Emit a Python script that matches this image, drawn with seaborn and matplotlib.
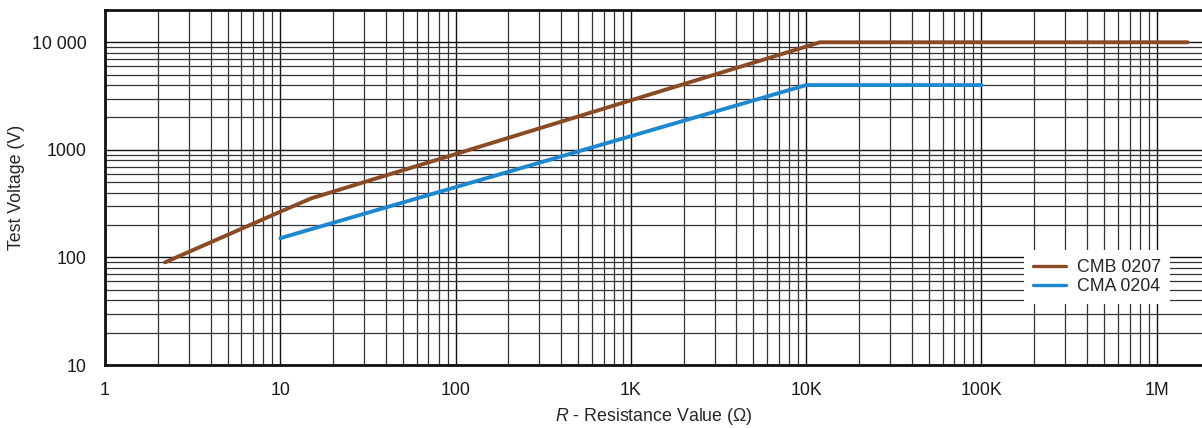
#!/usr/bin/env python3
"""Test voltage vs. resistance value for CMB 0207 and CMA 0204 (log-log)."""
import numpy as np
import pandas as pd
import matplotlib
matplotlib.use('Agg')
import matplotlib.pyplot as plt
import matplotlib.ticker as mticker
import seaborn as sns

# curve points (ohm, volt)
cmb_r = [2.2, 10, 15, 12000, 1500000]
cmb_v = [90, 266, 354, 10000, 10000]
cma_r = [10, 10000, 100000]
cma_v = [151, 4000, 4000]

series_names = ['CMB 0207', 'CMA 0204']
series_colors = ['#8B4A24', '#1D88D0']

x_ticks = [1, 10, 100, 1e3, 1e4, 1e5, 1e6]
x_tick_labels = ['1', '10', '100', '1K', '10K', '100K', '1M']
y_ticks = [10, 100, 1000, 10000]
y_tick_labels = ['10', '100', '1000', '10 000']


def main():
    sns.set_style('white')
    plt.rcParams['font.family'] = ['Liberation Sans', 'DejaVu Sans']
    plt.rcParams['mathtext.fontset'] = 'custom'
    plt.rcParams['mathtext.it'] = 'Liberation Sans:italic'
    plt.rcParams['mathtext.rm'] = 'Liberation Sans'

    df = pd.concat([
        pd.DataFrame({'R': cmb_r, 'V': cmb_v, 'type': series_names[0]}),
        pd.DataFrame({'R': cma_r, 'V': cma_v, 'type': series_names[1]}),
    ], ignore_index=True)

    fig = plt.figure(figsize=(12.02, 4.28), dpi=100)
    ax = fig.add_axes([105 / 1202, 63 / 428, 1 - 105 / 1202, 355 / 428])

    sns.lineplot(data=df, x='R', y='V', hue='type', hue_order=series_names,
                 palette=series_colors, linewidth=2.8, estimator=None,
                 sort=False, ax=ax, zorder=3)

    ax.set_xscale('log')
    ax.set_yscale('log')
    ax.set_xlim(1, 10 ** 6.258)
    ax.set_ylim(10, 10 ** 4.3)

    ax.xaxis.set_major_locator(mticker.FixedLocator(x_ticks))
    ax.xaxis.set_minor_locator(mticker.LogLocator(base=10, subs=np.arange(2, 10)))
    ax.yaxis.set_major_locator(mticker.FixedLocator(y_ticks))
    ax.yaxis.set_minor_locator(mticker.LogLocator(base=10, subs=np.arange(2, 10)))
    ax.xaxis.set_minor_formatter(mticker.NullFormatter())
    ax.yaxis.set_minor_formatter(mticker.NullFormatter())
    ax.set_xticklabels(x_tick_labels)
    ax.set_yticklabels(y_tick_labels)

    ax.grid(True, which='major', color='#111111', linewidth=1.0, zorder=1)
    ax.grid(True, which='minor', color='#333333', linewidth=0.9, zorder=1)
    ax.set_axisbelow(True)

    ax.tick_params(which='both', length=0, labelsize=12.8, colors='#1a1a1a')
    ax.tick_params(axis='x', pad=12)
    ax.tick_params(axis='y', pad=13)

    for side in ['left', 'bottom', 'top']:
        ax.spines[side].set_linewidth(2)
        ax.spines[side].set_color('#111111')
    ax.spines['right'].set_visible(False)

    ax.set_xlabel(r'$\it{R}$ - Resistance Value (Ω)', fontsize=12.8, labelpad=5)
    ax.set_ylabel('Test Voltage (V)', fontsize=12.8, labelpad=5)

    handles, labels = ax.get_legend_handles_labels()
    for h in handles:
        h.set_linewidth(2.4)
    leg = ax.legend(handles, labels, loc='lower right',
                    bbox_to_anchor=(1170 / 1202, 1 - 304 / 428),
                    bbox_transform=fig.transFigure, borderaxespad=0,
                    fontsize=12.8, frameon=True, fancybox=False,
                    framealpha=1, facecolor='white', edgecolor='none',
                    handlelength=1.9, handletextpad=0.6, labelspacing=0.1,
                    borderpad=0.5)
    leg.set_zorder(5)

    fig.savefig('out.png', dpi=100)
    plt.close(fig)


if __name__ == '__main__':
    main()
